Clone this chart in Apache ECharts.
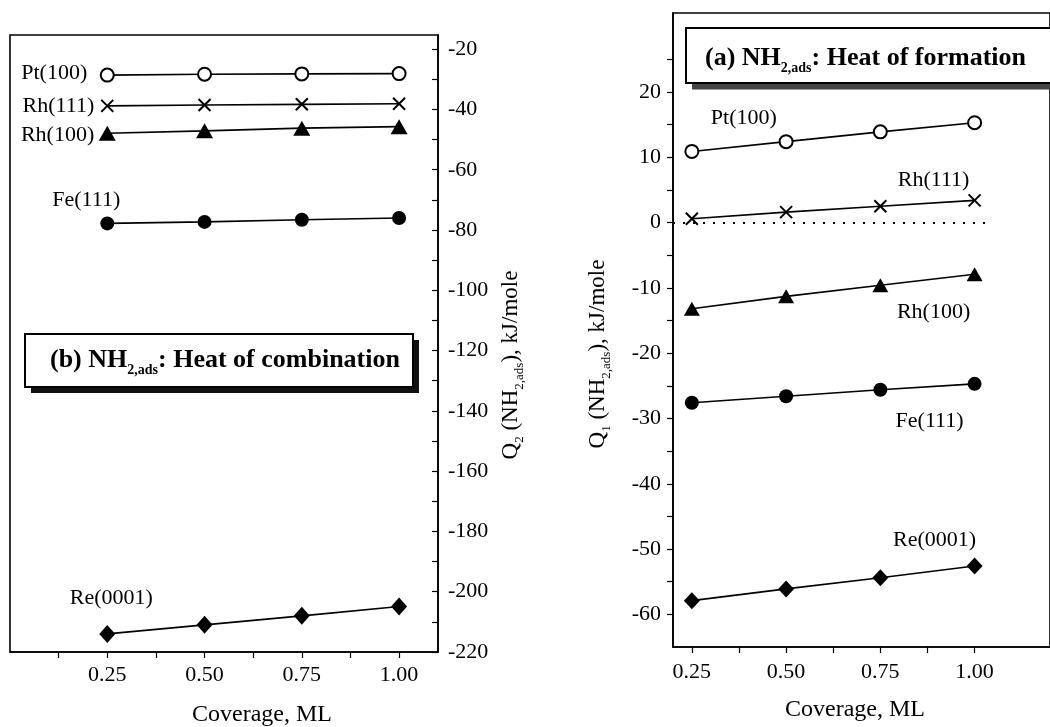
<!DOCTYPE html>
<html>
<head>
<meta charset="utf-8">
<script src="https://cdn.jsdelivr.net/npm/echarts@6/dist/echarts.min.js"></script>
<style>
  html, body { margin: 0; padding: 0; background: #fff; }
  #chart { width: 1050px; height: 727px; }
</style>
</head>
<body>
<div id="chart"></div>
<script>
// Coverage values (ML) shared by every curve
const coverage = [0.25, 0.50, 0.75, 1.00];

// (b) Heat of combination Q2(NH2,ads), kJ/mole
const q2Pt100  = [-28.6, -28.3, -28.2, -28.1];
const q2Rh111  = [-38.8, -38.5, -38.3, -38.1];
const q2Rh100  = [-47.9, -47.1, -46.2, -45.7];
const q2Fe111  = [-77.8, -77.3, -76.6, -76.0];
const q2Re0001 = [-214.0, -211.0, -208.0, -204.9];

// (a) Heat of formation Q1(NH2,ads), kJ/mole
const q1Pt100  = [10.9, 12.4, 13.9, 15.3];
const q1Rh111  = [0.6, 1.6, 2.5, 3.4];
const q1Rh100  = [-13.2, -11.3, -9.6, -7.9];
const q1Fe111  = [-27.6, -26.6, -25.6, -24.7];
const q1Re0001 = [-57.9, -56.1, -54.4, -52.6];

// Tick marks and tick labels
const xLabelValues   = [0.25, 0.50, 0.75, 1.00];
const xTicksLeft     = [0.125, 0.25, 0.375, 0.50, 0.625, 0.75, 0.875, 1.00];
const xTicksRight    = [0.25, 0.375, 0.50, 0.625, 0.75, 0.875, 1.00];
const q2LabelValues  = [-220, -200, -180, -160, -140, -120, -100, -80, -60, -40, -20];
const q2TickValues   = [-220, -210, -200, -190, -180, -170, -160, -150, -140, -130, -120,
                        -110, -100, -90, -80, -70, -60, -50, -40, -30, -20];
const q1LabelValues  = [-60, -50, -40, -30, -20, -10, 0, 10, 20];
const q1TickValues   = [-60, -55, -50, -45, -40, -35, -30, -25, -20, -15, -10, -5,
                        0, 5, 10, 15, 20, 25];
const zeroLineSpan   = [0.2, 1.03];

const FONT = "'Liberation Serif', 'Times New Roman', serif";
const CROSS = 'path://M0,0L10,10M10,0L0,10';

const chart = echarts.init(document.getElementById('chart'), null, { renderer: 'canvas' });

function curve(name, values, g, symbol, size, opts) {
  opts = opts || {};
  const filled = symbol !== 'emptyCircle' && symbol !== CROSS;
  return {
    type: 'line',
    name: name,
    xAxisIndex: g,
    yAxisIndex: g,
    data: values.map(function (v, i) {
      const d = { value: [coverage[i], v] };
      if (opts.labelAt === i) {
        d.label = {
          show: true,
          position: 'inside',
          offset: opts.offset,
          align: opts.align || 'center',
          verticalAlign: 'middle',
          formatter: name,
          color: '#000',
          fontSize: 22,
          fontFamily: FONT
        };
      }
      return d;
    }),
    symbol: symbol,
    symbolSize: size,
    showAllSymbol: true,
    lineStyle: { color: '#000', width: 1.6 },
    itemStyle: {
      color: '#000',
      borderColor: '#000',
      borderWidth: filled ? 0 : (symbol === CROSS ? 2 : 2.6)
    },
    label: { show: false },
    emphasis: { disabled: true },
    silent: true,
    animation: false,
    markLine: opts.markLine
  };
}

function richTitle(size, subSize, bold) {
  return {
    m: { fontSize: size, fontFamily: FONT, fontWeight: bold ? 'bold' : 'normal', color: '#000', lineHeight: size + 8 },
    s: { fontSize: subSize, fontFamily: FONT, fontWeight: bold ? 'bold' : 'normal', color: '#000', verticalAlign: 'bottom', lineHeight: subSize }
  };
}

const axisLabelStyle = { fontSize: 22, fontFamily: FONT, color: '#000' };
const axisLineStyle = { show: true, onZero: false, lineStyle: { color: '#000', width: 1.6 } };

const option = {
  backgroundColor: '#fff',
  animation: false,
  grid: [
    { left: 10, top: 35, width: 428, height: 617, show: true, borderColor: '#000', borderWidth: 1.6, backgroundColor: 'transparent' },
    { left: 673, top: 13, width: 403, height: 634, show: true, borderColor: '#000', borderWidth: 1.6, backgroundColor: 'transparent' }
  ],
  xAxis: [
    {
      type: 'value', gridIndex: 0, min: 0, max: 1.1,
      splitLine: { show: false },
      axisLine: axisLineStyle,
      axisTick: { show: true, inside: false, length: 6, customValues: xTicksLeft, lineStyle: { color: '#000', width: 1.2 } },
      axisLabel: { customValues: xLabelValues, margin: 12, formatter: function (v) { return v.toFixed(2); }, ...axisLabelStyle }
    },
    {
      type: 'value', gridIndex: 1, min: 0.2, max: 1.2,
      splitLine: { show: false },
      axisLine: axisLineStyle,
      axisTick: { show: true, inside: false, length: 6, customValues: xTicksRight, lineStyle: { color: '#000', width: 1.2 } },
      axisLabel: { customValues: xLabelValues, margin: 14, formatter: function (v) { return v.toFixed(2); }, ...axisLabelStyle }
    }
  ],
  yAxis: [
    {
      type: 'value', gridIndex: 0, position: 'right', min: -220, max: -15.3,
      splitLine: { show: false },
      axisLine: axisLineStyle,
      axisTick: { show: true, inside: true, length: 6, customValues: q2TickValues, lineStyle: { color: '#000', width: 1.2 } },
      axisLabel: { customValues: q2LabelValues, margin: 10, ...axisLabelStyle }
    },
    {
      type: 'value', gridIndex: 1, position: 'left', min: -65, max: 32.1,
      splitLine: { show: false },
      axisLine: axisLineStyle,
      axisTick: { show: true, inside: false, length: 6, customValues: q1TickValues, lineStyle: { color: '#000', width: 1.2 } },
      axisLabel: { customValues: q1LabelValues, margin: 12, ...axisLabelStyle }
    }
  ],
  series: [
    // (b) heat of combination
    curve('Pt(100)',  q2Pt100,  0, 'emptyCircle', 13, { labelAt: 0, offset: [-20, -2], align: 'right' }),
    curve('Rh(111)',  q2Rh111,  0, CROSS, 12,        { labelAt: 0, offset: [-13, 0], align: 'right' }),
    curve('Rh(100)',  q2Rh100,  0, 'triangle', [17, 15], { labelAt: 0, offset: [-13, 2], align: 'right' }),
    curve('Fe(111)',  q2Fe111,  0, 'circle', 14,     { labelAt: 0, offset: [-21, -23] }),
    curve('Re(0001)', q2Re0001, 0, 'diamond', [16, 18], { labelAt: 0, offset: [4, -36] }),
    // (a) heat of formation
    curve('Pt(100)',  q1Pt100,  1, 'emptyCircle', 13, { labelAt: 0, offset: [52, -33] }),
    curve('Rh(111)',  q1Rh111,  1, CROSS, 12, {
      labelAt: 3, offset: [-41, -20],
      markLine: {
        silent: true, symbol: 'none', animation: false,
        label: { show: false },
        lineStyle: { color: '#000', width: 2.2, type: [2, 8] },
        data: [[{ coord: [zeroLineSpan[0], 0] }, { coord: [zeroLineSpan[1], 0] }]]
      }
    }),
    curve('Rh(100)',  q1Rh100,  1, 'triangle', [16, 14], { labelAt: 3, offset: [-41, 38] }),
    curve('Fe(111)',  q1Fe111,  1, 'circle', 14,     { labelAt: 3, offset: [-45, 37] }),
    curve('Re(0001)', q1Re0001, 1, 'diamond', [16, 17], { labelAt: 3, offset: [-40, -26] })
  ],
  graphic: [
    // panel (b) caption with drop shadow
    { type: 'rect', shape: { x: 31, y: 340, width: 388, height: 53 }, style: { fill: '#111' }, z: 100 },
    { type: 'rect', shape: { x: 25, y: 334, width: 388, height: 53 }, style: { fill: '#fff', stroke: '#000', lineWidth: 2 }, z: 101 },
    {
      type: 'text', x: 50, y: 360, z: 102,
      style: {
        text: '{m|(b) NH}{s|2,ads}{m|: Heat of combination}',
        rich: richTitle(26, 14, true),
        align: 'left', verticalAlign: 'middle'
      }
    },
    // panel (a) caption with drop shadow
    { type: 'rect', shape: { x: 692, y: 84, width: 400, height: 5.5 }, style: { fill: '#444' }, z: 100 },
    { type: 'rect', shape: { x: 686, y: 28, width: 400, height: 55 }, style: { fill: '#fff', stroke: '#000', lineWidth: 2 }, z: 101 },
    {
      type: 'text', x: 705, y: 58, z: 102,
      style: {
        text: '{m|(a) NH}{s|2,ads}{m|: Heat of formation}',
        rich: richTitle(26, 14, true),
        align: 'left', verticalAlign: 'middle'
      }
    },
    // axis titles
    {
      type: 'text', x: 511, y: 365, rotation: Math.PI / 2, z: 102,
      style: {
        text: '{m|Q}{s|2}{m| (NH}{s|2,ads}{m|), kJ/mole}',
        rich: richTitle(23, 13, false),
        align: 'center', verticalAlign: 'middle'
      }
    },
    {
      type: 'text', x: 598, y: 354, rotation: Math.PI / 2, z: 102,
      style: {
        text: '{m|Q}{s|1}{m| (NH}{s|2,ads}{m|), kJ/mole}',
        rich: richTitle(23, 13, false),
        align: 'center', verticalAlign: 'middle'
      }
    },
    {
      type: 'text', x: 262, y: 715, z: 102,
      style: { text: 'Coverage, ML', fontSize: 24, fontFamily: FONT, fill: '#000', align: 'center', verticalAlign: 'middle' }
    },
    {
      type: 'text', x: 855, y: 710, z: 102,
      style: { text: 'Coverage, ML', fontSize: 24, fontFamily: FONT, fill: '#000', align: 'center', verticalAlign: 'middle' }
    }
  ]
};

chart.setOption(option);
</script>
</body>
</html>
